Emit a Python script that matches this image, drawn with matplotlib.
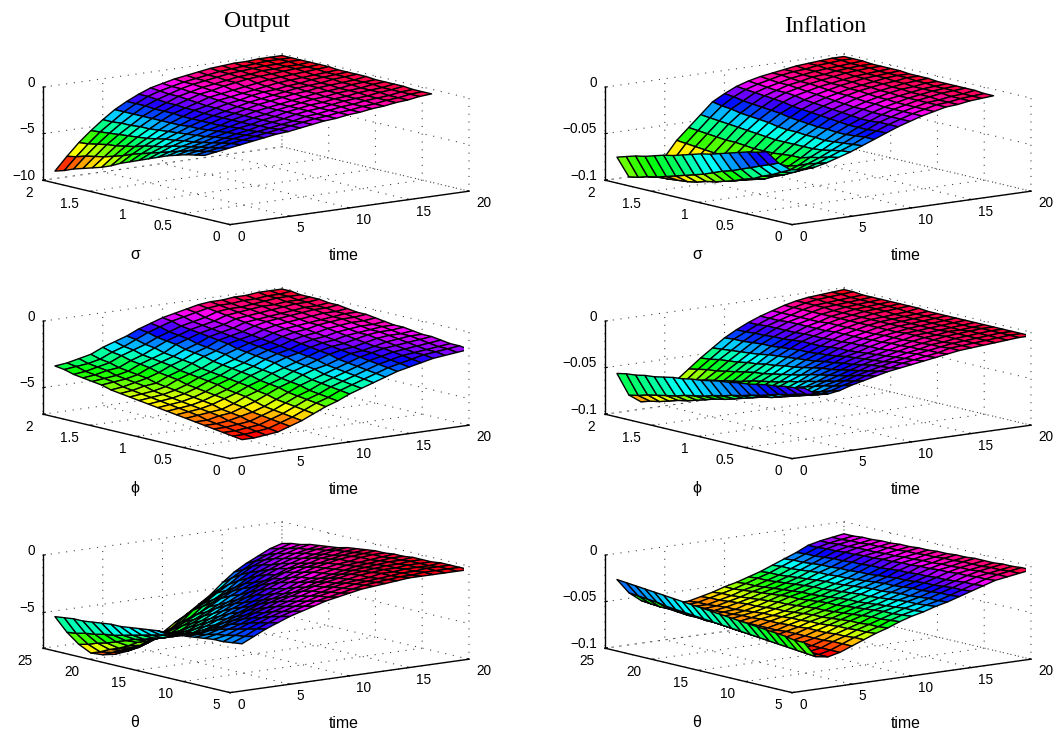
import numpy as np
import matplotlib
matplotlib.use("Agg")
import matplotlib.pyplot as plt
from matplotlib.colors import Normalize
from matplotlib.transforms import Affine2D
from mpl_toolkits.mplot3d import proj3d

plt.rcParams['font.family'] = ['Liberation Sans', 'DejaVu Sans']

TIME = list(range(1, 21))
SIGMA = [round(0.4 + 0.1 * i, 1) for i in range(17)]
PHI = [round(0.1 * i, 1) for i in range(21)]
THETA = list(range(5, 26))

# depth below zero, rows = parameter ascending, columns = time 1..20 ; Output in 0.1, Inflation in 0.001
OUTPUT_SIGMA = [
[37,35,33,31,29,27,25,24,22,20,18,17,15,14,12,11,9,8,6,5],
[39,37,35,32,30,28,26,24,22,20,18,17,15,14,12,11,9,8,6,5],
[41,39,37,34,31,29,27,25,23,21,18,17,15,13,12,10,9,8,6,5],
[44,41,39,36,33,30,28,25,23,21,18,16,15,13,11,10,9,7,6,4],
[47,44,41,38,34,31,28,26,23,21,18,16,14,13,11,10,8,7,6,4],
[51,47,43,40,36,32,29,26,23,21,18,16,14,12,11,9,8,7,5,4],
[55,50,45,41,37,33,30,26,23,20,18,16,14,12,10,9,8,6,5,4],
[59,53,48,43,38,34,30,26,23,20,17,15,13,11,10,8,7,6,5,3],
[63,56,50,44,39,34,30,26,23,20,17,15,13,11,9,8,7,5,4,3],
[67,59,52,46,40,35,30,26,22,19,17,14,12,11,9,8,6,5,4,3],
[72,63,55,48,41,35,30,25,22,18,16,14,12,10,8,7,6,5,4,3],
[76,66,57,49,42,35,29,25,21,17,15,13,11,9,7,6,5,4,3,2],
[79,69,59,50,42,35,29,24,20,16,14,11,9,7,6,5,4,3,3,2],
[82,71,60,51,43,35,29,24,19,16,13,11,9,7,6,4,4,3,3,2],
[85,73,62,52,43,35,28,23,19,15,12,10,8,6,5,4,3,3,2,2],
[89,76,64,53,44,35,28,22,18,15,12,10,8,6,5,4,3,2,2,2],
[92,78,65,54,44,35,28,22,17,14,11,9,7,5,4,3,3,2,2,2],
]
INFLATION_SIGMA = [
[33,47,56,58,57,54,50,46,41,36,31,26,22,18,15,12,11,9,8,7],
[36,51,61,63,61,57,52,47,42,36,31,26,22,18,15,12,11,9,8,7],
[38,55,66,68,65,60,55,49,43,37,32,26,22,18,15,12,11,9,8,6],
[41,59,70,72,69,64,57,51,44,38,32,27,22,18,15,12,10,8,7,6],
[44,63,75,77,73,67,60,52,45,38,32,27,22,18,15,12,10,8,7,6],
[47,67,78,80,75,68,60,52,44,37,31,26,21,17,14,12,10,8,7,6],
[50,70,82,83,77,70,61,52,44,37,30,25,21,17,14,11,9,8,6,6],
[52,74,85,86,79,71,62,52,43,36,29,24,20,16,13,11,9,7,6,5],
[55,78,88,88,81,72,62,52,43,35,28,23,19,15,12,10,8,7,5,5],
[58,81,90,89,82,72,62,51,42,34,27,22,18,15,12,10,8,6,5,5],
[61,84,93,90,83,72,61,50,40,32,26,21,17,14,11,9,7,6,5,4],
[63,87,95,91,83,72,60,49,39,31,24,19,16,13,11,9,7,6,5,4],
[66,90,96,92,84,72,60,48,38,30,23,18,15,12,10,8,6,5,4,4],
[69,93,97,92,84,71,59,47,37,29,22,18,14,12,9,8,6,5,4,4],
[71,95,97,92,84,70,58,46,35,28,21,17,14,11,9,7,6,5,4,3],
[74,98,98,92,84,69,57,45,34,26,20,16,13,10,8,7,5,4,3,3],
[77,100,98,92,84,68,56,44,32,25,19,15,12,10,8,6,5,4,3,3],
]
OUTPUT_PHI = [
[57,57,56,55,52,49,45,41,38,34,31,28,25,22,20,18,16,15,14,13],
[56,56,55,54,51,48,44,40,37,33,30,27,24,21,19,17,15,14,13,12],
[55,55,54,53,50,47,43,39,36,32,29,26,23,20,18,16,15,14,13,12],
[54,54,53,52,49,46,42,38,35,31,28,25,22,19,17,15,14,13,12,11],
[53,53,52,50,48,45,41,37,33,30,27,24,21,18,16,14,13,12,11,10],
[52,52,50,49,46,43,39,35,32,28,25,23,20,17,16,14,12,11,10,10],
[51,50,49,48,45,41,38,34,31,27,24,21,18,16,15,13,11,10,10,9],
[50,49,48,46,43,40,36,33,29,26,23,20,17,15,14,12,10,9,9,8],
[49,48,47,45,42,39,35,31,28,24,21,19,16,14,13,11,10,9,8,8],
[48,47,46,44,41,37,34,30,27,23,20,18,15,13,12,10,9,8,8,7],
[47,46,45,43,40,36,33,29,26,22,19,17,14,12,11,9,8,7,7,6],
[46,45,44,42,39,35,32,28,25,21,18,16,13,11,10,8,7,6,6,5],
[45,44,43,41,37,34,31,27,23,20,17,15,12,10,9,8,7,6,5,5],
[44,43,41,40,36,33,29,25,22,18,16,14,11,9,8,7,6,5,5,4],
[43,42,40,38,35,31,28,24,21,17,15,13,10,8,7,6,5,4,4,3],
[41,40,39,37,33,30,27,23,20,16,14,12,9,8,7,6,5,4,4,3],
[40,39,38,36,32,29,26,21,18,15,13,11,8,7,6,5,4,3,3,2],
[39,38,36,35,31,28,24,20,17,14,12,10,7,6,5,4,4,3,3,2],
[38,37,35,33,29,26,23,19,16,13,11,9,6,5,5,4,3,2,2,2],
[36,35,34,32,28,25,21,17,14,11,9,7,5,4,4,3,3,2,2,1],
[35,34,32,30,26,23,20,16,13,10,8,6,4,3,3,2,2,1,1,1],
]
INFLATION_PHI = [
[26,34,36,34,30,27,24,21,19,17,15,13,11,9,8,7,6,5,4,4],
[28,37,39,37,33,30,26,23,21,18,16,14,12,9,8,7,6,5,4,4],
[29,39,42,40,36,32,28,25,22,19,17,14,12,10,8,7,6,5,4,4],
[31,42,45,43,38,35,31,27,23,21,18,15,13,10,9,7,6,5,4,4],
[32,44,48,46,41,37,33,29,25,22,19,16,13,11,9,7,6,5,4,4],
[34,47,51,49,44,40,35,31,27,23,20,17,14,11,9,8,6,6,5,4],
[36,50,54,51,47,42,37,33,28,24,21,18,14,12,9,8,7,6,5,4],
[37,52,56,54,50,45,39,34,30,25,22,18,15,12,9,8,7,6,5,4],
[39,55,59,57,52,47,42,36,31,27,23,19,15,12,10,8,7,6,5,4],
[40,57,62,60,55,50,44,38,33,28,23,19,16,13,10,8,7,6,5,4],
[42,60,65,63,58,52,46,40,34,29,24,20,16,13,10,8,7,6,5,4],
[44,62,68,66,61,54,48,41,35,30,25,20,16,13,10,8,7,6,5,4],
[45,65,70,68,63,56,50,43,36,30,25,21,16,13,10,8,7,6,5,3],
[47,67,73,71,66,59,51,44,37,31,25,21,17,13,10,8,6,5,4,3],
[48,69,76,74,68,61,53,46,38,32,26,21,17,13,10,8,6,5,4,3],
[50,72,79,77,71,63,55,47,40,33,27,22,17,14,10,8,6,5,4,3],
[52,74,81,79,74,65,57,49,41,33,27,22,17,14,10,8,6,5,4,3],
[53,76,84,82,76,67,59,50,42,34,28,22,17,14,10,7,6,5,4,3],
[55,78,87,85,79,70,60,51,43,35,28,22,18,14,10,7,6,5,4,3],
[56,81,89,87,81,72,62,53,44,35,29,23,18,14,10,7,5,4,3,2],
[58,83,92,90,84,74,64,54,45,36,29,23,18,14,10,7,5,4,3,2],
]
OUTPUT_THETA = [
[40,35,30,26,22,19,16,13,11,9,7,6,5,4,3,3,3,3,3,3],
[41,37,32,28,24,21,18,15,13,11,9,7,6,5,4,4,3,3,3,3],
[42,38,34,30,26,23,20,17,14,12,10,8,7,6,5,4,4,3,3,3],
[42,40,36,32,29,25,22,19,16,14,11,9,8,7,5,5,4,4,4,3],
[43,41,38,35,31,28,24,21,18,15,13,11,9,7,6,5,5,4,4,4],
[44,43,40,37,34,30,27,23,20,17,14,12,10,8,7,6,5,5,4,4],
[45,45,43,41,37,34,30,26,23,20,17,14,12,10,8,7,6,5,5,4],
[45,47,47,44,41,37,33,29,26,23,19,16,14,12,10,8,7,6,5,5],
[46,49,50,48,45,41,37,33,29,25,22,18,16,13,11,9,8,7,6,5],
[46,51,53,52,48,44,40,36,32,28,24,20,17,14,12,10,9,7,6,6],
[47,53,56,55,52,48,44,39,35,30,26,22,19,16,13,11,9,8,7,6],
[48,55,59,58,56,52,48,43,38,34,29,25,22,18,15,13,11,9,8,7],
[49,57,61,62,60,56,52,47,42,38,33,28,24,20,17,15,12,11,9,8],
[50,59,64,65,64,61,56,51,46,42,37,32,28,24,20,17,14,12,10,9],
[50,61,66,69,68,65,60,56,51,46,40,35,31,26,22,19,16,14,12,11],
[51,63,69,72,71,69,65,60,55,50,44,39,34,29,25,21,18,15,13,12],
[52,64,72,77,78,75,72,68,62,57,50,44,39,33,28,24,20,17,15,13],
[53,66,75,81,82,80,77,73,69,63,55,50,44,37,31,26,22,19,16,14],
[53,67,77,84,86,85,83,79,75,69,60,55,48,42,35,29,25,21,18,16],
[54,69,80,88,90,90,89,86,82,76,68,62,55,48,40,34,28,24,20,17],
[55,70,82,91,94,95,94,92,88,82,75,69,62,55,46,38,32,27,22,19],
]
INFLATION_THETA = [
[48,65,67,64,59,54,49,45,40,36,33,29,26,22,18,14,10,8,6,4],
[48,64,67,64,59,54,50,46,41,37,34,30,27,23,19,15,11,8,6,4],
[46,63,66,64,59,55,50,46,42,38,34,31,27,23,19,15,11,9,7,5],
[45,62,65,64,60,55,51,47,42,38,35,31,28,24,20,16,12,9,7,5],
[44,61,65,63,60,56,51,47,43,39,36,32,29,25,21,17,12,10,8,6],
[43,60,64,63,60,56,52,48,44,40,37,33,29,25,21,17,13,10,8,6],
[42,59,63,63,60,56,53,49,45,41,38,34,30,26,22,18,13,11,8,6],
[41,58,63,63,60,57,53,50,46,42,39,35,31,27,23,18,14,11,9,7],
[40,57,62,62,61,57,54,50,47,43,39,35,31,27,23,19,14,12,9,7],
[39,56,62,62,61,58,54,51,47,43,40,36,32,28,24,19,15,12,10,8],
[38,55,61,62,61,58,55,52,48,44,41,37,33,29,25,20,15,13,10,8],
[37,54,60,62,61,58,56,53,49,45,42,38,34,30,26,21,16,13,11,9],
[36,53,59,62,61,59,56,53,50,46,43,39,35,31,26,21,16,14,11,9],
[35,52,59,61,61,59,57,54,50,46,43,39,35,31,27,22,17,14,12,10],
[34,51,58,61,61,60,58,55,51,47,44,40,36,32,27,22,17,15,12,10],
[33,50,58,61,62,60,59,55,52,48,45,41,37,32,28,23,18,15,13,11],
[32,49,57,60,62,61,59,56,53,49,46,42,38,33,28,23,18,15,13,11],
[31,47,56,60,62,61,60,57,54,50,47,43,39,34,29,24,19,16,14,12],
[30,46,56,60,62,61,61,58,55,51,48,44,40,35,30,25,19,16,14,12],
[29,45,55,60,62,62,61,58,55,52,48,44,40,35,30,25,20,17,15,13],
[28,44,54,60,62,62,62,59,56,52,49,45,41,36,31,26,20,17,15,13],
]

TIME_TICKS = [0, 5, 10, 15, 20]
PARAM_TICKS = [0, 0.5, 1, 1.5, 2]
PARAM_LABELS = ['0', '0.5', '1', '1.5', '2']
THETA_TICKS = [5, 10, 15, 20, 25]
THETA_LABELS = ['5', '10', '15', '20', '25']

W, H = 1061, 734
fig = plt.figure(figsize=(W / 100, H / 100), dpi=100)
cmap = plt.get_cmap('hsv', 64)


def shift_label(ax, label, dx, dy):
    # the 3D axis resets the label transform while drawing, so offset it just before the text is drawn
    original = label.draw

    def draw(renderer):
        label._transform = ax.transData + Affine2D().translate(dx, dy)
        original(renderer)
    label.draw = draw


def make_panel(col, row, y, rows, scale, ylim, yticks, ylabels, ylab, zlow, zticks, zlabels):
    ax = fig.add_axes([0.1, 0.1, 0.3, 0.3 * W / H], projection='3d', proj_type='ortho')
    ax.patch.set_alpha(0)
    ax.view_init(elev=10.5, azim=-127.5, roll=0)
    ax.set_box_aspect((301, 307, 94.6))
    ax.set_xlim(0, 20, view_margin=0)
    ax.set_ylim(*ylim, view_margin=0)
    ax.set_zlim(zlow, 0, view_margin=0)
    T, P = np.meshgrid(TIME, y)
    Z = -np.array(rows, dtype=float) * scale
    fc = cmap(Normalize(Z.min(), Z.max())(Z))
    ax.plot_surface(T, P, Z, rstride=1, cstride=1, facecolors=fc, edgecolor='k',
                    linewidth=1.0, shade=False, antialiased=True)
    ax.set_xticks(TIME_TICKS, labels=[str(v) for v in TIME_TICKS], fontsize=9.8, ha='left')
    ax.set_yticks(yticks, labels=ylabels, fontsize=9.8, ha='right')
    ax.set_zticks(zticks, labels=zlabels, fontsize=9.8, ha='right', va='baseline')
    ax.set_xlabel('time', fontsize=11.4, labelpad=3)
    ax.set_ylabel(ylab, fontsize=11.4, labelpad=3)
    ax.xaxis.set_rotate_label(False)
    ax.yaxis.set_rotate_label(False)
    shift_label(ax, ax.xaxis.label, -34, -27)
    shift_label(ax, ax.yaxis.label, 34, -33)
    ax.tick_params(axis='x', pad=-2)
    ax.tick_params(axis='y', pad=-1)
    ax.tick_params(axis='z', pad=-5)
    for axis in (ax.xaxis, ax.yaxis, ax.zaxis):
        axis.set_pane_color((1, 1, 1, 0))
        axis.pane.set_edgecolor('none')
        axis.line.set_color('k')
        axis.line.set_linewidth(1.0)
        axis._axinfo['grid'].update(color='#444444', linestyle=(0, (1, 6)), linewidth=0.8)
        axis._axinfo['tick'].update(inward_factor=0.0, outward_factor=0.12)
        axis._axinfo['tick']['linewidth'] = {True: 0.8, False: 0.5}
    ax.zaxis.set_ticks_position('upper')
    ax.zaxis.set_label_position('upper')

    # place the box so its floor corners fall at the wanted pixels
    F = np.array([230 + 562 * col, H - (224.5 + 234 * row)])
    Rt = np.array([469 + 562 * col, H - (190.5 + 234 * row)])
    L = np.array([43 + 562 * col, H - (181 + 234 * row)])
    corners = [(0, ylim[0]), (20, ylim[0]), (0, ylim[1])]
    M = ax.get_proj()
    xs, ys, _ = proj3d.proj_transform(*np.array([(a, b, zlow) for a, b in corners]).T, M)
    p2 = np.c_[xs, ys]
    s0 = 0.3 * W
    ax.set_position([0.1, 0.1, s0 / W, s0 / H])
    ax.apply_aspect()
    px = ax.transData.transform(p2)
    k = np.linalg.norm(Rt - L) / np.linalg.norm(px[1] - px[2])
    s = s0 * k
    ax.set_position([0.1, 0.1, s / W, s / H])
    ax.apply_aspect()
    px = ax.transData.transform(p2)
    d = np.mean(np.array([F, Rt, L]) - px, axis=0)
    ax.set_position([0.1 + d[0] / W, 0.1 + d[1] / H, s / W, s / H])
    return ax


make_panel(0, 0, SIGMA, OUTPUT_SIGMA, 0.1, (0, 2), PARAM_TICKS, PARAM_LABELS, 'σ', -10, [-10, -5, 0], ['−10', '−5', '0'])
make_panel(1, 0, SIGMA, INFLATION_SIGMA, 0.001, (0, 2), PARAM_TICKS, PARAM_LABELS, 'σ', -0.1, [-0.1, -0.05, 0], ['−0.1', '−0.05', '0'])
make_panel(0, 1, PHI, OUTPUT_PHI, 0.1, (0, 2), PARAM_TICKS, PARAM_LABELS, 'ϕ', -7, [-5, 0], ['−5', '0'])
make_panel(1, 1, PHI, INFLATION_PHI, 0.001, (0, 2), PARAM_TICKS, PARAM_LABELS, 'ϕ', -0.1, [-0.1, -0.05, 0], ['−0.1', '−0.05', '0'])
make_panel(0, 2, THETA, OUTPUT_THETA, 0.1, (5, 25), THETA_TICKS, THETA_LABELS, 'θ', -8.1, [-5, 0], ['−5', '0'])
make_panel(1, 2, THETA, INFLATION_THETA, 0.001, (5, 25), THETA_TICKS, THETA_LABELS, 'θ', -0.1, [-0.1, -0.05, 0], ['−0.1', '−0.05', '0'])

fig.text(257 / W, 1 - 27 / H, 'Output', family='Liberation Serif', fontsize=17.2, ha='center', va='baseline')
fig.text(825 / W, 1 - 31.5 / H, 'Inflation', family='Liberation Serif', fontsize=17.2, ha='center', va='baseline')

fig.savefig('out.png', dpi=100)
